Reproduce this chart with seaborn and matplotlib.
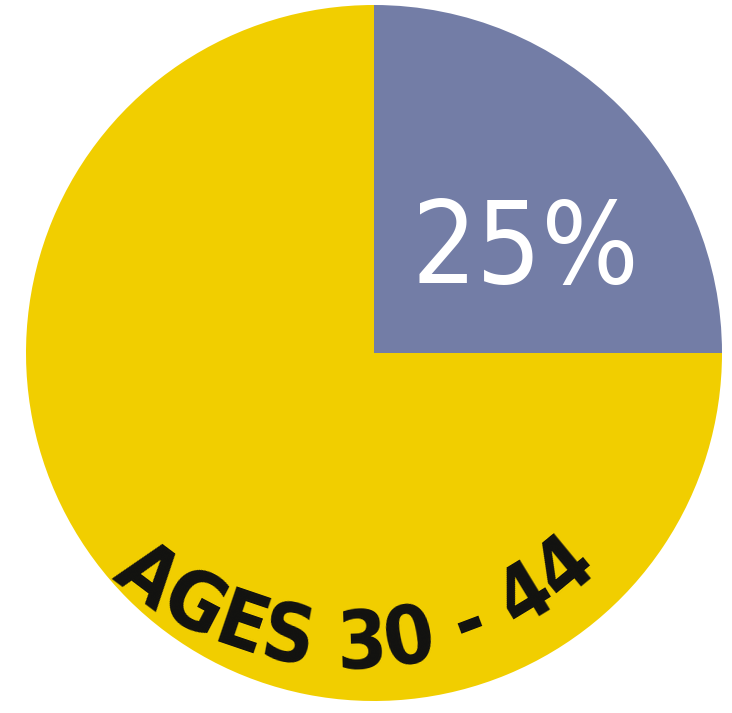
import matplotlib
matplotlib.use("Agg")
import numpy as np
import matplotlib.pyplot as plt
import seaborn as sns
from matplotlib.font_manager import FontProperties
from matplotlib.textpath import text_to_path

# Share of the age group versus everyone else
segments = ["Ages 30 - 44", "Other ages"]
shares = [25, 75]
segment_colors = ["#737DA6", "#F1CE00"]
arc_label = "AGES 30 - 44"

sns.set_theme(style="white")
plt.rcParams["font.family"] = ["DejaVu Sans"]

W, H, DPI = 732, 713, 100
fig = plt.figure(figsize=(W / DPI, H / DPI), dpi=DPI)
fig.patch.set_facecolor("white")
ax = fig.add_axes([0, 0, 1, 1])

palette = sns.color_palette(segment_colors)
wedges, _ = ax.pie(shares, colors=palette, startangle=90, counterclock=False,
                   radius=1.0, wedgeprops=dict(linewidth=0))

# pixel geometry of the pie: centre and radius
R_PX, CX_PX, CY_PX = 348, 374, 353
ax.set_xlim(-CX_PX / R_PX, (W - CX_PX) / R_PX)
ax.set_ylim(-(H - CY_PX) / R_PX, CY_PX / R_PX)
ax.set_aspect("auto")
ax.axis("off")

# percentage inside the small wedge
pct_fp = FontProperties(family="DejaVu Sans", stretch="condensed", weight="normal", size=82)
ax.text(0.434, 0.200, f"{shares[0]}%", color="white", fontproperties=pct_fp,
        ha="center", va="baseline")

# curved label along the bottom of the large wedge
fp = FontProperties(family="DejaVu Sans", stretch="condensed", weight="bold", size=58)
widths = np.array([text_to_path.get_text_width_height_descent(ch, fp, ismath=False)[0]
                   for ch in arc_label])
centres = np.cumsum(widths) - widths / 2
a0, a1 = -127.0, -50.5
angles = a0 + (centres - centres[0]) / (centres[-1] - centres[0]) * (a1 - a0)
arc_cx, arc_cy = (350 - CX_PX) / R_PX, (CY_PX - 307) / R_PX
arc_r = 361 / R_PX
for ch, ang in zip(arc_label, angles):
    if ch == " ":
        continue
    t = np.deg2rad(ang)
    ax.text(arc_cx + arc_r * np.cos(t), arc_cy + arc_r * np.sin(t), ch,
            fontproperties=fp, color="#111111", rotation=ang + 90,
            rotation_mode="anchor", ha="center", va="baseline")

fig.savefig("out.png", dpi=DPI)
